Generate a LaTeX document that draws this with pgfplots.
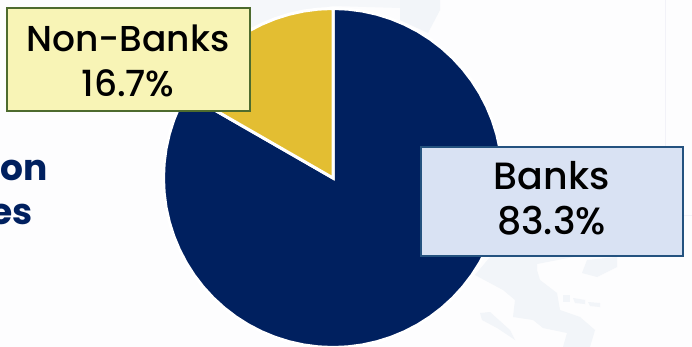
\documentclass[border=0pt]{standalone}
\usepackage{fontspec}
\setmainfont{Poppins}[UprightFont=* Medium,BoldFont=* Bold]
\usepackage{pgfplots}
\pgfplotsset{compat=1.18}
\definecolor{navy}{HTML}{00205F}
\definecolor{gold}{HTML}{E3BE32}
\definecolor{mapfill}{HTML}{F2F5F9}
\definecolor{mapline}{HTML}{F2F2F8}
\definecolor{paper}{HTML}{FDFDFE}
\definecolor{nbfill}{HTML}{F8F4B6}
\definecolor{nbedge}{HTML}{4E6B2E}
\definecolor{bfill}{HTML}{D9E2F3}
\definecolor{bedge}{HTML}{24527F}
\begin{document}
\begin{tikzpicture}
\useasboundingbox (0,0) rectangle (692pt,347pt);
% backdrop: pale map outlines, in page units
\begin{axis}[at={(0,0)},anchor=south west,scale only axis,x=1pt,y=-1pt,
  xmin=0,xmax=692,ymin=0,ymax=347,hide axis]
\addplot[draw=none,fill=paper] coordinates {(0,0)(692,0)(692,347)(0,347)} -- cycle;
\addplot[draw=none,fill=mapfill] coordinates {(400,0)(440,0)(440,10)(428,33)(400,20)} -- cycle;
\addplot[draw=none,fill=mapfill!70!paper] coordinates {(250,0)(400,0)(400,8)(333,6)(290,14)(250,28)} -- cycle;
\addplot[draw=none,fill=mapfill] coordinates {(475,275)(490,257)(573,257)(537,264)(537,270)(540,280)(557,293)(560,310)(580,317)(595,330)(590,347)(563,347)(567,333)(543,328)(533,320)(513,317)(515,300)(503,290)} -- cycle;
\addplot[draw=none,fill=mapfill] coordinates {(582,273)(587,260)(617,257)(617,267)(597,277)} -- cycle;
\addplot[draw=none,fill=mapfill] coordinates {(480,313)(490,312)(510,330)(515,340)(497,328)(482,320)} -- cycle;
\addplot[draw=none,fill=mapfill] coordinates {(563,295)(570,295)(570,302)(563,302)} -- cycle;
\addplot[draw=none,fill=mapfill] coordinates {(573,298)(585,300)(585,304)(575,303)} -- cycle;
\addplot[draw=none,fill=mapfill] coordinates {(588,302)(600,303)(600,307)(590,306)} -- cycle;
\addplot[mapline,line width=1pt] coordinates {(665.5,0)(665.5,147)};
\addplot[mapline,line width=1pt] coordinates {(683,215)(692,215)};
\end{axis}
% pie: slices in polar coordinates (angle, radius); 83.3% and 16.7% of 360 degrees
\begin{axis}[at={(0,0)},anchor=south west,scale only axis,x=1pt,y=1pt,
  xmin=-333,xmax=359,ymin=-169,ymax=178,hide axis,clip=true]
\addplot[data cs=polar,fill=navy,draw=white,line width=3pt,line join=miter] coordinates {
 (150.12,169.5)(155,169.5)(160,169.5)(165,169.5)(170,169.5)(175,169.5)(180,169.5)
 (185,169.5)(190,169.5)(195,169.5)(200,169.5)(205,169.5)(210,169.5)(215,169.5)
 (220,169.5)(225,169.5)(230,169.5)(235,169.5)(240,169.5)(245,169.5)(250,169.5)
 (255,169.5)(260,169.5)(265,169.5)(270,169.5)(275,169.5)(280,169.5)(285,169.5)
 (290,169.5)(295,169.5)(300,169.5)(305,169.5)(310,169.5)(315,169.5)(320,169.5)
 (325,169.5)(330,169.5)(335,169.5)(340,169.5)(345,169.5)(350,169.5)(355,169.5)
 (360,169.5)(365,169.5)(370,169.5)(375,169.5)(380,169.5)(385,169.5)(390,169.5)
 (395,169.5)(400,169.5)(405,169.5)(410,169.5)(415,169.5)(420,169.5)(425,169.5)
 (430,169.5)(435,169.5)(440,169.5)(445,169.5)(450,169.5)(0,0)} -- cycle;
\addplot[data cs=polar,fill=gold,draw=white,line width=3pt,line join=miter] coordinates {
 (90,169.5)(95,169.5)(100,169.5)(105,169.5)(110,169.5)(115,169.5)(120,169.5)
 (125,169.5)(130,169.5)(135,169.5)(140,169.5)(145,169.5)(150.12,169.5)(0,0)} -- cycle;
% partial heading at the left edge
\node[anchor=base east,font=\fontsize{36}{36}\selectfont\bfseries,text=navy,inner sep=0pt] at (axis cs:-285,-3) {on};
\node[anchor=base east,font=\fontsize{36}{36}\selectfont\bfseries,text=navy,inner sep=0pt] at (axis cs:-300,-47) {es};
% callouts
\node[draw=nbedge,fill=nbfill,line width=2pt,minimum width=243pt,minimum height=103pt,inner sep=0pt] at (axis cs:-205,118) {};
\node[align=center,inner sep=0pt,font=\fontsize{36}{45}\selectfont] at (axis cs:-205,117.5) {Non-Banks\\16.7\%};
\node[draw=bedge,fill=bfill,line width=2pt,minimum width=262pt,minimum height=109pt,inner sep=0pt] at (axis cs:218.5,-24) {};
\node[align=center,inner sep=0pt,font=\fontsize{38}{45}\selectfont] at (axis cs:218.5,-20) {Banks\\83.3\%};
\end{axis}
\end{tikzpicture}
\end{document}
